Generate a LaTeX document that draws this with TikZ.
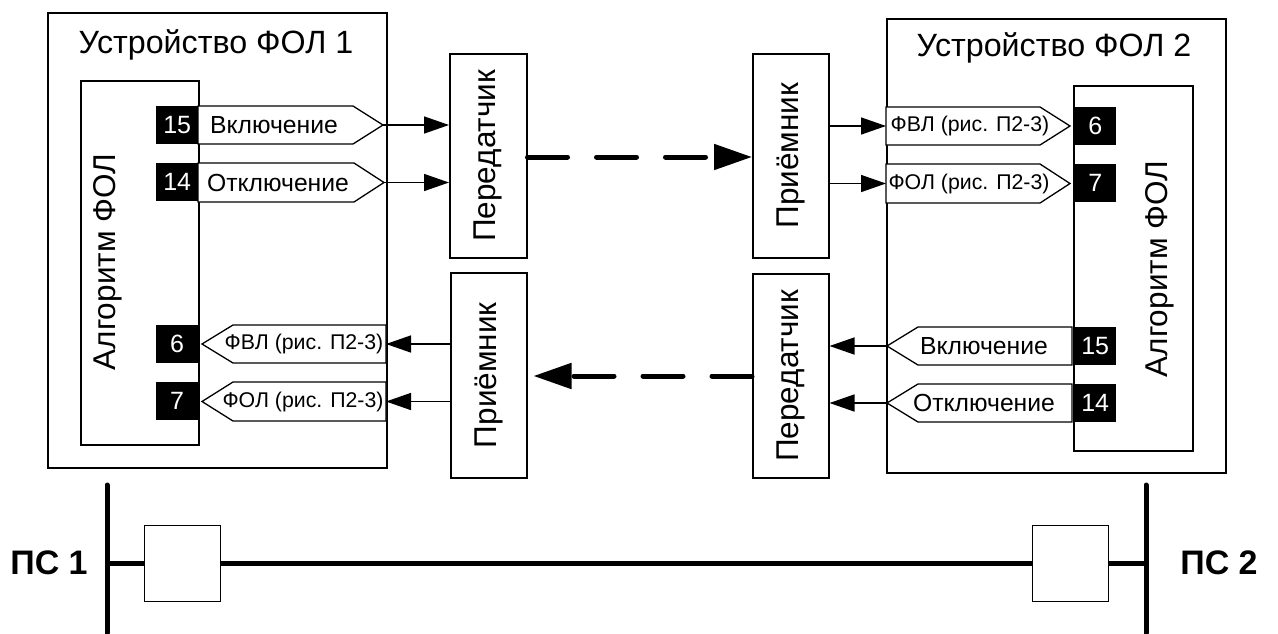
\documentclass[tikz,border=0pt]{standalone}
\usepackage{fontspec}
\setmainfont{Liberation Sans}
\usetikzlibrary{arrows.meta}
\newcommand\fszBig{\fontsize{31.5}{36}\selectfont}
\newcommand\fszTitle{\fontsize{32.2}{36}\selectfont}
\newcommand\fszPin{\fontsize{25}{28}\selectfont}
\newcommand\fszSig{\fontsize{24.7}{28}\selectfont}
\newcommand\fszRef{\fontsize{21.3}{24}\selectfont}
\newcommand\fszPS{\fontsize{34}{38}\selectfont}
\begin{document}
\begin{tikzpicture}[x=1pt,y=-1pt,
  box/.style={draw, line width=1.5pt, fill=white, inner sep=0pt, anchor=north west},
  pinbox/.style={fill=black, text=white, inner sep=0pt, anchor=north west, minimum width=42pt, minimum height=38pt, font=\fszPin},
  sig/.style={draw, line width=1.3pt, fill=white, line join=miter},
  lbl/.style={inner sep=0pt},
  arr/.style={line width=1.5pt, -{Triangle[length=25pt,width=17pt]}},
  darr/.style={line width=5pt, dash pattern=on 40pt off 29pt, line cap=round, -{Triangle[length=38pt,width=25pt]}},
  bus/.style={line width=5pt, line cap=round}]
\useasboundingbox (0,0) rectangle (1278,633);

% ---------- Device 1 ----------
\node[box, minimum width=339pt, minimum height=455pt] (dev1) at (47,12) {};
\node[lbl, anchor=base, font=\fszTitle] (t1) at (216,53) {Устройство ФОЛ 1};
\node[box, minimum width=118pt, minimum height=364pt] (alg1box) at (80,80) {};
\node[lbl, rotate=90, font=\fszBig] (alg1) at (108,262) {Алгоритм ФОЛ};

% output signals (left device)
\draw[sig] (198,106) -- (353,106) -- (383,125) -- (353,144) -- (198,144) -- cycle;
\coordinate (o15a) at (383,125);
\node[lbl, font=\fszSig] (s15a) at (274,125) {Включение};
\draw[sig] (198,163) -- (354,163) -- (384,182.5) -- (354,202) -- (198,202) -- cycle;
\coordinate (o14a) at (384,182.5);
\node[lbl, font=\fszSig] (s14a) at (278,182.5) {Отключение};
% input signals (left device)
\draw[sig] (386,325) -- (233,325) -- (202,344) -- (233,363) -- (386,363) -- cycle;
\coordinate (i6a) at (386,344);
\node[lbl, font=\fszRef] (s6a) at (304,344) {ФВЛ (рис. П2-3)};
\draw[sig] (386,382) -- (233,382) -- (202,401.5) -- (233,421) -- (386,421) -- cycle;
\coordinate (i7a) at (386,401.5);
\node[lbl, font=\fszRef] (s7a) at (303,401.5) {ФОЛ (рис. П2-3)};

\node[pinbox] (p15a) at (156,106) {15};
\node[pinbox] (p14a) at (156,163) {14};
\node[pinbox] (p6a) at (156,325) {6};
\node[pinbox] (p7a) at (156,382) {7};

% ---------- Transmitter / receiver 1 ----------
\node[box, minimum width=77pt, minimum height=204pt] (tx1) at (449,53) {};
\node[lbl, rotate=90, font=\fszBig] (tx1l) at (tx1.center) {Передатчик};
\node[box, minimum width=76pt, minimum height=205pt] (rx1) at (450,272) {};
\node[lbl, rotate=90, font=\fszBig] (rx1l) at (rx1.center) {Приёмник};

% ---------- Receiver / transmitter 2 ----------
\node[box, minimum width=76pt, minimum height=204pt] (rx2) at (752,53) {};
\node[lbl, rotate=90, font=\fszBig] (rx2l) at (rx2.center) {Приёмник};
\node[box, minimum width=76pt, minimum height=204pt] (tx2) at (752,273) {};
\node[lbl, rotate=90, font=\fszBig] (tx2l) at (tx2.center) {Передатчик};

% ---------- Device 2 ----------
\node[box, minimum width=339pt, minimum height=454pt] (dev2) at (886,18) {};
\node[lbl, anchor=base, font=\fszTitle] (t2) at (1054,56) {Устройство ФОЛ 2};
\node[box, minimum width=119pt, minimum height=365pt] (alg2box) at (1073,85) {};
\node[lbl, rotate=90, font=\fszBig] (alg2) at (1160,269) {Алгоритм ФОЛ};

% input signals (right device)
\draw[sig] (886,107) -- (1040,107) -- (1070,126) -- (1040,145) -- (886,145) -- cycle;
\coordinate (i6b) at (886,126);
\node[lbl, font=\fszRef] (s6b) at (970,126) {ФВЛ (рис. П2-3)};
\draw[sig] (886,164) -- (1040,164) -- (1070,183.5) -- (1040,203) -- (886,203) -- cycle;
\coordinate (i7b) at (886,183.5);
\node[lbl, font=\fszRef] (s7b) at (969,183.5) {ФОЛ (рис. П2-3)};
% output signals (right device)
\draw[sig] (1072,327) -- (918,327) -- (887,346) -- (918,365) -- (1072,365) -- cycle;
\coordinate (o15b) at (887,346);
\node[lbl, font=\fszSig] (s15b) at (984,346) {Включение};
\draw[sig] (1072,384) -- (918,384) -- (887,403) -- (918,422) -- (1072,422) -- cycle;
\coordinate (o14b) at (887,403);
\node[lbl, font=\fszSig] (s14b) at (984,403) {Отключение};

\node[pinbox] (p6b) at (1074,107) {6};
\node[pinbox] (p7b) at (1074,164) {7};
\node[pinbox] (p15b) at (1074,327) {15};
\node[pinbox] (p14b) at (1074,384) {14};

% ---------- connectors ----------
\draw[arr] (o15a) -- (o15a -| tx1.west);
\draw[arr] (o14a) -- (o14a -| tx1.west);
\draw[arr] (i6a -| rx1.west) -- (i6a);
\draw[arr] (i7a -| rx1.west) -- (i7a);
\draw[arr] (i6b -| rx2.east) -- (i6b);
\draw[arr] (i7b -| rx2.east) -- (i7b);
\draw[arr] (o15b) -- (o15b -| tx2.east);
\draw[arr] (o14b) -- (o14b -| tx2.east);
\draw[darr] (tx1.east |- 0,157) -- (rx2.west |- 0,157);
\draw[darr] (tx2.west |- 0,376) -- ([xshift=6pt]rx1.east |- 0,376);

% ---------- power line ----------
\coordinate (b1t) at (107,485);
\coordinate (b1b) at (107,633);
\coordinate (b2t) at (1146,485);
\coordinate (b2b) at (1146,633);
\draw[bus] (b1t) -- (b1b);
\draw[bus] (b2t) -- (b2b);
\draw[line width=5pt] (107,563) -- (1146,563);
\node[box, minimum width=76pt, minimum height=76pt, line width=1.3pt] (sw1) at (144,525) {};
\node[box, minimum width=76pt, minimum height=76pt, line width=1.3pt] (sw2) at (1032,525) {};
\node[lbl, font=\fszPS\bfseries] (ps1) at (49,563) {ПС 1};
\node[lbl, font=\fszPS\bfseries] (ps2) at (1219,563) {ПС 2};
\end{tikzpicture}
\end{document}
